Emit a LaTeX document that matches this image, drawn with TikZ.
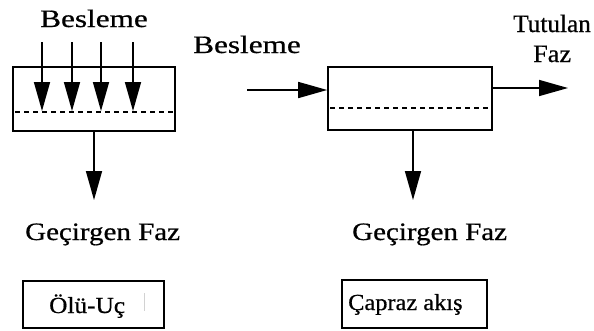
\documentclass[tikz,border=0pt]{standalone}
\usepackage{fontspec}
\setmainfont{Liberation Serif}[FakeBold=0.6]
\usetikzlibrary{arrows.meta}
\begin{document}
\begin{tikzpicture}[x=1pt,y=-1pt,
  lbl/.style={inner sep=0pt, font=\fontsize{25}{28}\selectfont},
  small/.style={inner sep=0pt, font=\fontsize{23}{26}\selectfont},
  unit/.style={draw, line width=1.6pt, inner sep=0pt},
  flow/.style={line width=1.6pt, -{Triangle[length=29pt,width=16pt]}},
  sieve/.style={line width=1.6pt, dash pattern=on 5pt off 4pt},
  tag/.style={draw, line width=1.8pt, inner sep=0pt}]
\useasboundingbox (0,0) rectangle (594,330);

% dead-end filtration module
\node[unit, minimum width=162pt, minimum height=64pt] (de) at (94,99) {};
\draw[sieve] (15,112) -- (173,112);
\foreach \x [count=\i] in {42,72,101,133} {
  \coordinate (inA\i) at (\x,42);
  \coordinate (onA\i) at (\x,111);
  \draw[flow] (inA\i) -- (onA\i);
}
\coordinate (permA) at (94,200);
\draw[flow] (de.south) -- (permA);

% cross-flow filtration module
\node[unit, minimum width=164pt, minimum height=63pt] (cf) at (410,98.5) {};
\draw[sieve] (330,108) -- (490,108);
\coordinate (feedB) at (247,90);
\draw[flow] (feedB) -- (cf.west |- feedB);
\coordinate (ret) at (568,88);
\draw[flow] (cf.east |- ret) -- (ret);
\coordinate (permB) at (413,200);
\draw[flow] (cf.south -| permB) -- (permB);

% stream labels
\node[lbl, anchor=base west] (besA) at (40,27) {\scalebox{1.25}[1]{Besleme}};
\node[lbl, anchor=base west] (besB) at (193,53) {\scalebox{1.25}[1]{Besleme}};
\node[lbl, anchor=base west] (tut) at (513,32) {\scalebox{1.01}[1]{Tutulan}};
\node[lbl, anchor=base west] (tutfaz) at (533,62) {\scalebox{1.05}[1]{Faz}};
\node[lbl, anchor=base west] (gecA) at (25,240) {\scalebox{1.16}[1]{Geçirgen Faz}};
\node[lbl, anchor=base west] (gecB) at (352,240) {\scalebox{1.16}[1]{Geçirgen Faz}};

% mode captions
\node[tag, minimum width=141pt, minimum height=47pt] (tagA) at (93.5,304.5) {};
\node[small, anchor=base west] (modeA) at (49,313) {\scalebox{1.1}[1]{Ölü-Uç}};
\draw[gray!35, line width=0.8pt] (144,293) -- (144,311);
\node[tag, minimum width=145pt, minimum height=48pt] (tagB) at (414.5,304) {};
\node[small, anchor=base west] (modeB) at (348,310) {\scalebox{1.06}[1]{Çapraz akış}};
\end{tikzpicture}
\end{document}
